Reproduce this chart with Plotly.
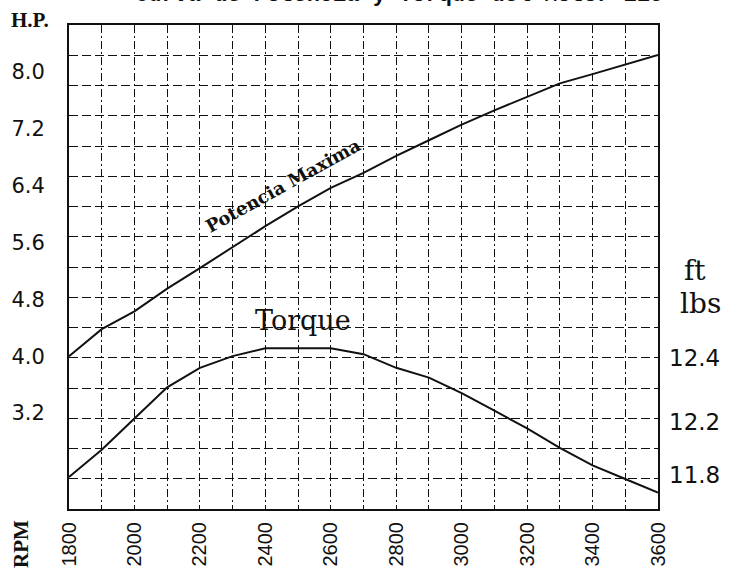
import plotly.graph_objects as go

# ---- data ----
rpm = [1800, 1900, 2000, 2100, 2200, 2300, 2400, 2500, 2600, 2700,
       2800, 2900, 3000, 3100, 3200, 3300, 3400, 3500, 3600]
power_hp = [4.00, 4.38, 4.63, 4.95, 5.24, 5.54, 5.83, 6.11, 6.37, 6.58,
            6.82, 7.04, 7.26, 7.46, 7.65, 7.84, 7.97, 8.10, 8.24]
torque_ftlb = [11.79, 11.93, 12.09, 12.25, 12.35, 12.41, 12.45, 12.45, 12.45, 12.42,
               12.35, 12.30, 12.22, 12.13, 12.04, 11.94, 11.85, 11.78, 11.71]

rpm_ticks = [1800, 2000, 2200, 2400, 2600, 2800, 3000, 3200, 3400, 3600]
hp_ticks = [3.2, 4.0, 4.8, 5.6, 6.4, 7.2, 8.0]
hp_tick_text = ["3.2", "4.0", "4.8", "5.6", "6.4", "7.2", "8.0"]
torque_tick_vals = [12.4, 12.07, 11.8]
torque_tick_text = ["12.4", "12.2", "11.8"]

title_text = "Curva de Potencia y Torque del Motor E15"

W, H = 732, 571
L, R, T, B = 69, 74, 25, 62

BLACK = "#111111"
hdash = "9px,4px"
vdash = "8px,3px,2px,3px"

fig = go.Figure()

fig.add_trace(go.Scatter(x=rpm, y=power_hp, mode="lines",
                         line=dict(color=BLACK, width=2), yaxis="y",
                         showlegend=False, hoverinfo="skip"))
fig.add_trace(go.Scatter(x=rpm, y=torque_ftlb, mode="lines",
                         line=dict(color=BLACK, width=2), yaxis="y2",
                         showlegend=False, hoverinfo="skip"))
# helper trace to activate the grid-only axis
fig.add_trace(go.Scatter(x=[None], y=[None], yaxis="y3", showlegend=False,
                         hoverinfo="skip"))

fig.update_layout(
    width=W, height=H,
    margin=dict(l=L, r=R, t=T, b=B),
    paper_bgcolor="white", plot_bgcolor="white",
    showlegend=False,
    xaxis=dict(
        range=[1800, 3600], tickvals=rpm_ticks, tickangle=-90,
        ticks="", ticklabelstandoff=3, automargin=False,
        tickfont=dict(family="Liberation Sans", size=20, color=BLACK),
        showgrid=True, gridcolor=BLACK, gridwidth=1.2, griddash=vdash,
        minor=dict(dtick=100, tick0=1800, showgrid=True, gridcolor=BLACK,
                   gridwidth=1.2, griddash=vdash, ticks=""),
        showline=True, mirror=True, linecolor=BLACK, linewidth=2,
        zeroline=False,
    ),
    yaxis=dict(
        range=[1.849, 8.662], tickvals=hp_ticks, ticktext=hp_tick_text,
        ticks="", ticklabelstandoff=18, automargin=False,
        tickfont=dict(family="DejaVu Sans", size=21, color=BLACK),
        showgrid=False, zeroline=False,
        showline=True, mirror=True, linecolor=BLACK, linewidth=2,
    ),
    yaxis2=dict(
        range=[11.626, 14.108], overlaying="y", side="right",
        tickvals=torque_tick_vals, ticktext=torque_tick_text,
        ticks="", ticklabelstandoff=10, automargin=False,
        tickfont=dict(family="DejaVu Sans", size=23, color=BLACK),
        showgrid=False, zeroline=False, showline=False,
    ),
    yaxis3=dict(
        range=[0, 16], dtick=1, tick0=0, overlaying="y", automargin=False,
        showticklabels=False, ticks="", showline=False, zeroline=False,
        showgrid=True, gridcolor=BLACK, gridwidth=1.4, griddash=hdash,
    ),
)

ann_common = dict(showarrow=False, xref="paper", yref="paper",
                  xanchor="center", yanchor="middle")
# title: only its lower edge shows at the top of the page, as in the scan
fig.add_annotation(text="<b>" + title_text + "</b>", x=0.56, y=1.0,
                   yshift=T + 5,
                   font=dict(family="Liberation Mono", size=22, color=BLACK),
                   **ann_common)
fig.add_annotation(text="<b>Potencia Maxima</b>", x=0.363, y=0.669, textangle=-29,
                   font=dict(family="DejaVu Serif", size=18, color=BLACK),
                   **ann_common)
fig.add_annotation(text="Torque", x=0.397, y=0.390,
                   font=dict(family="DejaVu Serif", size=27, color=BLACK),
                   **ann_common)
fig.add_annotation(text="ft", x=1.0, xshift=37, y=0.492,
                   font=dict(family="DejaVu Serif", size=28, color=BLACK),
                   **ann_common)
fig.add_annotation(text="lbs", x=1.0, xshift=42, y=0.424,
                   font=dict(family="DejaVu Serif", size=28, color=BLACK),
                   **ann_common)
fig.add_annotation(text="<b>H.P.</b>", x=0.0, xshift=-39, y=1.0, yshift=5,
                   font=dict(family="Liberation Serif", size=21, color=BLACK),
                   **ann_common)
fig.add_annotation(text="<b>RPM</b>", x=0.0, xshift=-48, y=0.0, yshift=-35,
                   textangle=-90,
                   font=dict(family="Liberation Serif", size=21, color=BLACK),
                   **ann_common)

fig.write_html("out.html")
